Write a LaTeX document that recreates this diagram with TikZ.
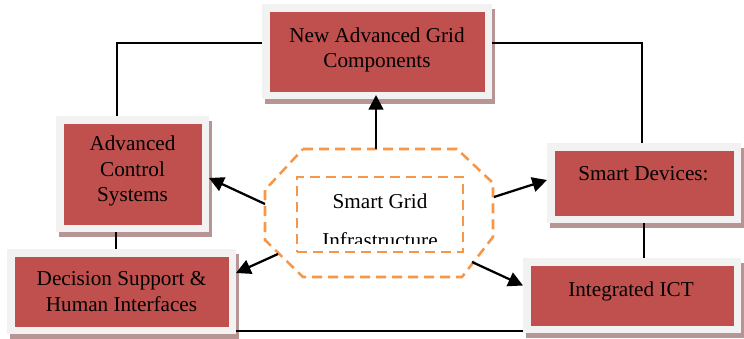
\documentclass[tikz,border=0pt]{standalone}
\usepackage{fontspec}
\setmainfont{Liberation Serif}
\usetikzlibrary{fit,calc,arrows.meta}
\definecolor{redf}{HTML}{C0504D}
\definecolor{framec}{HTML}{F2F2F2}
\definecolor{shadc}{HTML}{B79595}
\definecolor{orangec}{HTML}{F79646}
% name, x1, y1, x2, y2
\newcommand\mybox[5]{%
  \fill[shadc] ($(#2,#3)+(3,5)$) rectangle ($(#4,#5)+(3,5)$);
  \node[framebox, fit={(#2,#3) (#4,#5)}] (#1) {};
  \fill[redf] ($(#2,#3)+(7.5,8)$) rectangle ($(#4,#5)+(-7.5,-7)$);
}
\begin{document}
\begin{tikzpicture}[x=0.75pt,y=-0.75pt,
  framebox/.style={fill=framec,draw=none,inner sep=0pt,outer sep=0pt},
  lbl/.style={align=center,inner sep=0pt,font=\fontsize{15.9}{19}\selectfont},
  conn/.style={draw=black,line width=1pt},
  arr/.style={draw=black,line width=1.7pt,-{Triangle[length=11pt,width=11pt]}},
  orng/.style={draw=orangec,line width=1.9pt,dash pattern=on 7.5pt off 4.5pt},
  hubbox/.style={orng,inner sep=0pt,outer sep=0pt}]
\useasboundingbox (0,0) rectangle (744,339);

% boxes
\mybox{ngc}{262}{4}{492}{99}
\mybox{acs}{56}{116}{209}{232}
\mybox{ds}{7}{249}{236}{334}
\mybox{sd}{547}{143}{741}{223}
\mybox{ict}{523}{258}{741}{333}

\node[lbl] (ngct) at (377,50) {New Advanced Grid\\Components};
\node[lbl] (acst) at (132.5,171) {Advanced\\Control\\Systems};
\node[lbl] (dst) at (121.5,291.5) {Decision Support \&\\Human Interfaces};
\node[lbl] (sdt) at (643.5,174) {Smart Devices:};
\node[lbl] (ictt) at (631,291) {Integrated ICT};

% plain connectors
\draw[conn] ($(ngc.west)+(0,-8.5)$) -| ($(acs.north west)+(61,0)$);
\draw[conn] ($(acs.south west)+(60,0)$) -- ($(ds.north west)+(109,0)$);
\draw[conn] ($(ngc.east)+(0,-8.5)$) -| ($(sd.north west)+(95,0)$);
\draw[conn] ($(sd.south west)+(97,0)$) -- ($(ict.north west)+(121,0)$);
\draw[conn] ($(ds.east)+(0,39.5)$) -- ($(ict.west)+(0,35.5)$);

% hub
\draw[orng] (303,149) -- (457,149) -- (493,183) -- (493,237) -- (462,277)
  -- (303,277) -- (265,240) -- (265,190) -- cycle;
\coordinate (otop) at (376,149);
\coordinate (oacs) at (265,204);
\coordinate (ods) at (278,254);
\coordinate (osd) at (494,197);
\coordinate (oict) at (472,262);
\node[hubbox, fit={(297,177) (463,252)}] (hub) {};
\begin{scope}
  \clip (297,177) rectangle (463,243);
  \node[lbl] (hubt1) at (380,201) {Smart Grid};
  \node[lbl] (hubt2) at (380,240) {Infrastructure};
\end{scope}

% arrows
\draw[arr,shorten >=-3pt] (otop) -- (otop |- ngc.south);
\draw[arr] (oacs) -- ($(acs.east)+(0,4)$);
\draw[arr] (ods) -- ($(ds.east)+(0,-18.5)$);
\draw[arr] (osd) -- ($(sd.west)+(0,-3)$);
\draw[arr] (oict) -- ($(ict.west)+(0,-10)$);
\end{tikzpicture}
\end{document}
